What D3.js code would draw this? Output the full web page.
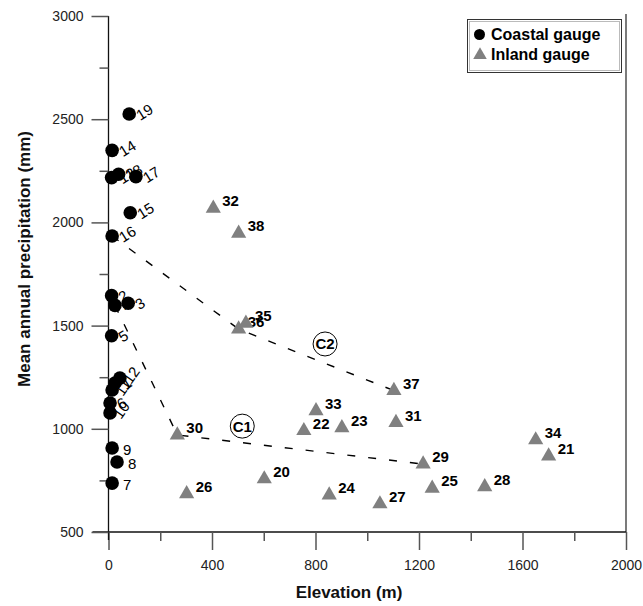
<!DOCTYPE html>
<html>
<head>
<meta charset="utf-8">
<script src="https://cdn.jsdelivr.net/npm/d3@7"></script>
<style>
  html, body { margin: 0; padding: 0; background: #fff; }
  svg { display: block; font-family: "Liberation Sans", Arial, sans-serif; }
</style>
</head>
<body>
<svg id="chart" width="643" height="606"></svg>
<script>
// Coastal rain gauges: id, elevation (m), mean annual precipitation (mm)
const coastalIds    = [1, 2, 3, 4, 5, 6, 7, 8, 9, 10, 11, 12, 13, 14, 15, 16, 17, 18, 19];
const coastalElev   = [25, 12, 76, 25, 12, 6, 14, 33, 14, 6, 14, 44, 12, 14, 84, 14, 106, 39, 80];
const coastalPrecip = [1222, 1645, 1608, 1598, 1451, 1125, 737, 839, 907, 1077, 1188, 1246, 2217, 2349, 2047, 1934, 2222, 2233, 2525];

// Inland rain gauges
const inlandIds    = [20, 21, 22, 23, 24, 25, 26, 27, 28, 29, 30, 31, 32, 33, 34, 35, 36, 37, 38];
const inlandElev   = [602, 1701, 755, 902, 853, 1251, 302, 1049, 1454, 1216, 266, 1111, 405, 802, 1651, 531, 503, 1103, 503];
const inlandPrecip = [757, 868, 991, 1005, 679, 712, 685, 636, 719, 829, 970, 1030, 2068, 1087, 946, 1511, 1483, 1185, 1947];

// Dashed profiles C1 and C2
const c1Elev   = [25, 266, 1216];
const c1Precip = [1598, 970, 829];
const c2Elev   = [14, 503, 1103];
const c2Precip = [1934, 1483, 1185];

// Circled profile tags
const tagNames  = ["C1", "C2"];
const tagElev   = [517, 837];
const tagPrecip = [1013, 1411];

// Axis ticks
const xMajor = [0, 400, 800, 1200, 1600, 2000];
const xMinor = [200, 600, 1000, 1400, 1800];
const yMajor = [500, 1000, 1500, 2000, 2500, 3000];
const yMinor = [750, 1250, 1750, 2250, 2750];

const legendNames = ["Coastal gauge", "Inland gauge"];

// tilt of the coastal id labels (degrees)
const coastalTilt = { 7: 0, 8: 0, 9: 0, 10: -55, 11: -55, 12: -55 };

const svg = d3.select("#chart");
const x = d3.scaleLinear().domain([0, 2000]).range([108.5, 626]);
const y = d3.scaleLinear().domain([500, 3000]).range([532, 16]);

const tickColor = "#222";

// frame on the right side
svg.append("line")
  .attr("x1", x(2000)).attr("x2", x(2000))
  .attr("y1", y(3000) - 2).attr("y2", y(500))
  .attr("stroke", "#333").attr("stroke-width", 1.3);

// axes
function styleAxis(g) {
  g.selectAll("path.domain").attr("stroke", "#111").attr("stroke-width", 1.3);
  g.selectAll(".tick line").attr("stroke", "#555").attr("stroke-width", 1.5);
  g.selectAll(".tick text").attr("fill", tickColor).attr("font-size", 14)
    .attr("font-family", "Liberation Sans, Arial, sans-serif");
}

const gx = svg.append("g").attr("transform", `translate(0,${y(500)})`)
  .call(d3.axisBottom(x).tickValues(xMajor).tickSize(18).tickSizeOuter(0).tickPadding(10).tickFormat(d3.format("d")));
styleAxis(gx);
const gxm = svg.append("g").attr("transform", `translate(0,${y(500)})`)
  .call(d3.axisBottom(x).tickValues(xMinor).tickSize(9).tickSizeOuter(0).tickFormat(""));
styleAxis(gxm);
gxm.select("path.domain").remove();
// x axis line extends a little left of the y axis
gx.select("path.domain").attr("d", `M${x(0) - 16},0H${x(2000)}`);

const gy = svg.append("g").attr("transform", `translate(${x(0)},0)`)
  .call(d3.axisLeft(y).tickValues(yMajor).tickSize(17).tickSizeOuter(0).tickPadding(8).tickFormat(d3.format("d")));
styleAxis(gy);
gy.select("path.domain").attr("d", `M0,${y(3000)}V${y(500) + 8}`);
const gym = svg.append("g").attr("transform", `translate(${x(0)},0)`)
  .call(d3.axisLeft(y).tickValues(yMinor).tickSize(9).tickSizeOuter(0).tickFormat(""));
styleAxis(gym);
gym.select("path.domain").remove();

// axis titles
svg.append("text")
  .attr("x", 349).attr("y", 598)
  .attr("text-anchor", "middle")
  .attr("font-size", 17).attr("font-weight", "bold").attr("fill", "#111")
  .text("Elevation (m)");
svg.append("text")
  .attr("transform", `translate(30,${259}) rotate(-90)`)
  .attr("text-anchor", "middle")
  .attr("font-size", 17).attr("font-weight", "bold").attr("fill", "#111")
  .text("Mean annual precipitation (mm)");

// dashed profiles
const line = d3.line().x(d => x(d[0])).y(d => y(d[1]));
[[c1Elev, c1Precip], [c2Elev, c2Precip]].forEach(([e, p]) => {
  svg.append("path")
    .attr("d", line(e.map((v, i) => [v, p[i]])))
    .attr("fill", "none").attr("stroke", "#000")
    .attr("stroke-width", 1.4).attr("stroke-dasharray", "8,13");
});

// profile tags
tagNames.forEach((name, i) => {
  const g = svg.append("g").attr("transform", `translate(${x(tagElev[i])},${y(tagPrecip[i])})`);
  g.append("circle").attr("r", 12).attr("fill", "#fff").attr("stroke", "#000").attr("stroke-width", 1);
  g.append("text").attr("text-anchor", "middle").attr("dy", "0.36em")
    .attr("font-size", 15).attr("font-weight", "bold").attr("fill", "#000").text(name);
});

// labels first, markers on top
const coastal = coastalIds.map((id, i) => ({ id, e: coastalElev[i], p: coastalPrecip[i] }));
const inland = inlandIds.map((id, i) => ({ id, e: inlandElev[i], p: inlandPrecip[i] }));

svg.append("g").selectAll("text").data(coastal).join("text")
  .attr("transform", d => `translate(${x(d.e) + 11},${y(d.p) + 7}) rotate(${coastalTilt[d.id] ?? -32})`)
  .attr("font-size", 15).attr("fill", "#000")
  .text(d => d.id);

svg.append("g").selectAll("text").data(inland).join("text")
  .attr("x", d => x(d.e) + 9).attr("y", d => y(d.p) - 2)
  .attr("font-size", 15).attr("font-weight", "bold").attr("fill", "#000")
  .text(d => d.id);

svg.append("g").selectAll("circle").data(coastal).join("circle")
  .attr("cx", d => x(d.e)).attr("cy", d => y(d.p)).attr("r", 6.8)
  .attr("fill", "#000");

const tri = d3.symbol().type(d3.symbolTriangle).size(100);
svg.append("g").selectAll("path").data(inland).join("path")
  .attr("transform", d => `translate(${x(d.e)},${y(d.p)})`)
  .attr("d", tri).attr("fill", "#808080");

// legend
const lg = svg.append("g");
lg.append("rect").attr("x", 467.5).attr("y", 19.5).attr("width", 154).attr("height", 53)
  .attr("fill", "#fff").attr("stroke", "#333").attr("stroke-width", 1);
lg.append("rect").attr("x", 469.5).attr("y", 21.5).attr("width", 150).attr("height", 49)
  .attr("fill", "none").attr("stroke", "#bbb").attr("stroke-width", 1);
lg.append("circle").attr("cx", 479.5).attr("cy", 34.5).attr("r", 5.5).attr("fill", "#000");
lg.append("path").attr("transform", "translate(480,55)").attr("d", d3.symbol().type(d3.symbolTriangle).size(80)).attr("fill", "#808080");
legendNames.forEach((name, i) => {
  lg.append("text").attr("x", 491).attr("y", 40 + i * 20)
    .attr("font-size", 16).attr("font-weight", "bold").attr("fill", "#000").text(name);
});
</script>
</body>
</html>
